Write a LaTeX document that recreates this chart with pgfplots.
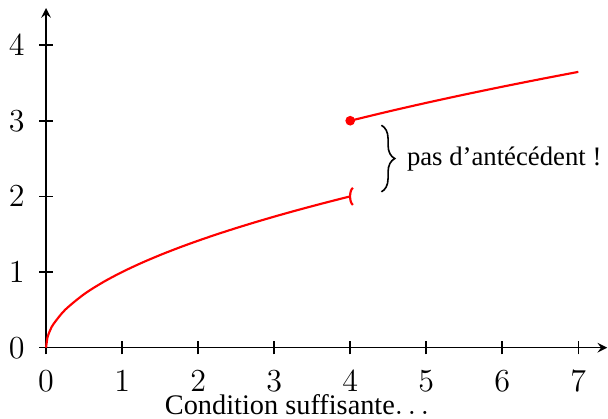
\documentclass[border=0pt]{standalone}
\usepackage{pgfplots}
\pgfplotsset{compat=1.18}
\usepackage{fontspec}
\setmainfont{Liberation Serif}
\usetikzlibrary{decorations.pathreplacing}

% open end marker, like a bracket "(" at the excluded point
\pgfdeclareplotmark{openend}{%
  \pgfpathmoveto{\pgfpoint{1.0pt}{3.2pt}}
  \pgfpathcurveto{\pgfpoint{-0.4pt}{2.2pt}}{\pgfpoint{-0.4pt}{-2.2pt}}{\pgfpoint{1.0pt}{-3.2pt}}
  \pgfusepathqstroke
}

\begin{document}
\begin{tikzpicture}
  \begin{axis}[
      x=1cm, y=0.995cm,
      axis lines=middle,
      axis line style={semithick, -stealth},
      xmin=0, xmax=7.38,
      ymin=0, ymax=4.49,
      xtick={0,...,7},
      ytick={0,...,4},
      hide obscured x ticks=false,
      hide obscured y ticks=false,
      tick align=center,
      major tick length=5pt,
      tick style={semithick, black},
      ticklabel style={font=\fontsize{11.5}{13}\selectfont},
      xticklabel style={inner ysep=0.5pt, yshift=-5.3pt},
      yticklabel style={xshift=-2pt},
      clip=false,
    ]
    \addplot[red, thick, smooth] coordinates {
      (0,0) (0.02,0.1414) (0.06,0.2449) (0.1,0.3162) (0.25,0.5) (0.5,0.7071)
      (0.75,0.8660) (1,1) (1.25,1.1180) (1.5,1.2247) (1.75,1.3229)
      (2,1.4142) (2.25,1.5) (2.5,1.5811) (2.75,1.6583) (3,1.7321)
      (3.25,1.8028) (3.5,1.8708) (3.75,1.9365) (4,2)
    };
    \addplot[red, thick, smooth] coordinates {
      (4,3) (4.5,3.1213) (5,3.2361) (5.5,3.3452) (6,3.4495)
      (6.5,3.5495) (7,3.6458)
    };
    \addplot[red, only marks, mark=*, mark size=1.6pt] coordinates {(4,3)};
    \addplot[red, only marks, mark=openend, mark options={thick}] coordinates {(4,2)};
    \draw[decorate, decoration={brace, amplitude=5pt}, semithick]
      (axis cs:4.41,2.94) -- (axis cs:4.41,2.06);
    \node[anchor=west, inner sep=0pt] at (axis cs:4.74,2.5) {pas d'antécédent !};
    \node[anchor=base, inner xsep=0pt, inner ysep=1.5pt, font=\fontsize{10.6}{13}\selectfont]
      at (axis cs:3.3,-0.88) {Condition suffisante$\ldots$};
    % a little room above the arrow tip, as in the reference
    \path ([yshift=3pt]rel axis cs:0,1);
  \end{axis}
\end{tikzpicture}
\end{document}
